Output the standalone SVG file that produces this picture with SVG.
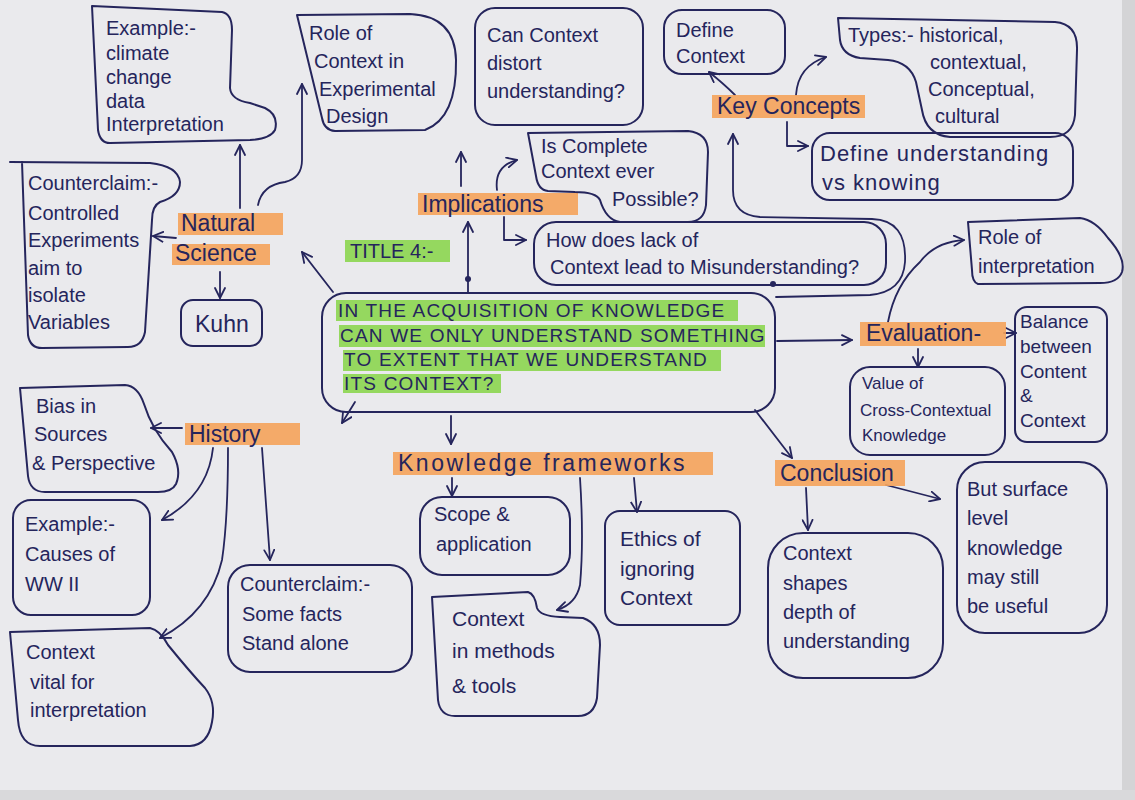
<svg xmlns="http://www.w3.org/2000/svg" width="1135" height="800" viewBox="0 0 1135 800">
<style>
.b{fill:none;stroke:#25255c;stroke-width:2;stroke-linejoin:round;stroke-linecap:round}
.c{fill:none;stroke:#25255c;stroke-width:1.8;stroke-linecap:round;stroke-linejoin:round}
.t{font-family:"Liberation Sans",Arial,sans-serif;font-size:20px;fill:#25255c}
.l{font-family:"Liberation Sans",Arial,sans-serif;font-size:23px;fill:#25255c}
.m{font-family:"Liberation Sans",Arial,sans-serif;font-size:19px;fill:#25255c;letter-spacing:1.2px}
.o{fill:#f5a35a;opacity:0.9}
.g{fill:#8cd64f;opacity:0.9}
</style>
<defs>
<marker id="a" viewBox="0 0 12 12" refX="11" refY="6" markerWidth="12" markerHeight="12" markerUnits="userSpaceOnUse" orient="auto">
<path d="M1,1 L11,6 L1,11" fill="none" stroke="#25255c" stroke-width="1.8" stroke-linecap="round" stroke-linejoin="round"/>
</marker>
</defs>
<rect width="1135" height="800" fill="#eaeaed"/>
<rect x="1122" y="0" width="13" height="800" fill="#d4d4d6"/>
<rect x="0" y="790" width="1135" height="10" fill="#d9d9db"/>

<g id="connectors">
<path class="c" d="M240,208 L240,145" marker-end="url(#a)"/>
<path class="c" d="M258,205 Q262,185 285,182 Q302,178 302,160 L302,84" marker-end="url(#a)"/>
<path class="c" d="M176,238 L153,236" marker-end="url(#a)"/>
<path class="c" d="M220,272 L220,298" marker-end="url(#a)"/>
<path class="c" d="M333,292 L302,252" marker-end="url(#a)"/>
<path class="c" d="M468,292 L468,222" marker-end="url(#a)"/>
<circle cx="468" cy="279" r="3" fill="#25255c"/>
<path class="c" d="M461,186 L461,152" marker-end="url(#a)"/>
<path class="c" d="M497,190 Q494,166 517,160" marker-end="url(#a)"/>
<path class="c" d="M504,217 L504,240 L526,240" marker-end="url(#a)"/>
<path class="c" d="M735,95 Q724,84 709,72" marker-end="url(#a)"/>
<path class="c" d="M796,95 Q798,66 826,57" marker-end="url(#a)"/>
<path class="c" d="M787,122 L787,146 L808,146" marker-end="url(#a)"/>
<path class="c" d="M776,297 L870,295 Q903,292 905,262 Q907,220 872,219 L760,217 Q733,215 733,190 L733,134" marker-end="url(#a)"/>
<circle cx="773" cy="284" r="3" fill="#25255c"/>
<path class="c" d="M777,341 L852,340" marker-end="url(#a)"/>
<path class="c" d="M888,322 Q895,285 920,262 Q935,242 964,240" marker-end="url(#a)"/>
<path class="c" d="M1004,333 L1016,333" marker-end="url(#a)"/>
<path class="c" d="M918,349 L918,367" marker-end="url(#a)"/>
<path class="c" d="M755,410 L792,458" marker-end="url(#a)"/>
<path class="c" d="M451,416 L451,444" marker-end="url(#a)"/>
<path class="c" d="M355,402 L342,423" marker-end="url(#a)"/>
<path class="c" d="M182,428 L151,428" marker-end="url(#a)"/>
<path class="c" d="M213,448 Q208,495 162,520" marker-end="url(#a)"/>
<path class="c" d="M228,448 Q228,520 222,560 Q210,612 160,638" marker-end="url(#a)"/>
<path class="c" d="M262,448 L270,560" marker-end="url(#a)"/>
<path class="c" d="M452,478 L452,496" marker-end="url(#a)"/>
<path class="c" d="M580,478 Q584,540 580,585 Q576,604 557,610" marker-end="url(#a)"/>
<path class="c" d="M634,478 L637,512" marker-end="url(#a)"/>
<path class="c" d="M806,488 L808,530" marker-end="url(#a)"/>
<path class="c" d="M886,485 L940,499" marker-end="url(#a)"/>
</g>

<g id="example-climate">
<path class="b" d="M92,6 L222,12 Q232,14 232,30 L230,88 Q231,100 250,103 L265,108 Q279,115 275,130 Q270,139 250,140 L110,143 Q100,143 98,130 Z"/>
<text class="t"><tspan x="106" y="35">Example:-</tspan><tspan x="106" y="60">climate</tspan><tspan x="106" y="84">change</tspan><tspan x="106" y="108">data</tspan><tspan x="106" y="131">Interpretation</tspan></text>
</g>

<g id="role-experimental">
<path class="b" d="M297,15 L410,14 Q455,16 456,60 Q457,118 425,130 L335,131 Q324,130 322,118 Z"/>
<text class="t"><tspan x="309" y="40">Role of</tspan><tspan x="314" y="68">Context in</tspan><tspan x="319" y="96">Experimental</tspan><tspan x="326" y="123">Design</tspan></text>
</g>

<g id="distort">
<rect class="b" x="475" y="8" width="168" height="117" rx="20"/>
<text class="t"><tspan x="487" y="42">Can Context</tspan><tspan x="487" y="70">distort</tspan><tspan x="487" y="98">understanding?</tspan></text>
</g>

<g id="define-context">
<rect class="b" x="664" y="10" width="121" height="64" rx="18"/>
<text class="t"><tspan x="676" y="37">Define</tspan><tspan x="676" y="63">Context</tspan></text>
</g>

<g id="types">
<path class="b" d="M838,18 L1055,22 Q1078,24 1077,50 L1075,115 Q1073,137 1050,137 L950,137 Q926,135 922,110 L916,82 Q910,62 888,60 L860,58 Q842,55 840,40 Z"/>
<text class="t"><tspan x="848" y="42">Types:- historical,</tspan><tspan x="930" y="69">contextual,</tspan><tspan x="928" y="96">Conceptual,</tspan><tspan x="935" y="123">cultural</tspan></text>
</g>

<g id="key-concepts">
<rect class="o" x="712" y="95" width="153" height="23"/>
<text class="l" x="717" y="114">Key Concepts</text>
</g>

<g id="define-understanding">
<rect class="b" x="812" y="133" width="261" height="67" rx="18"/>
<text class="l" style="font-size:22px;letter-spacing:1px"><tspan x="820" y="161">Define understanding</tspan><tspan x="822" y="190">vs knowing</tspan></text>
</g>

<g id="implications">
<rect class="o" x="418" y="193" width="160" height="22"/>
<text class="l" x="422" y="212">Implications</text>
</g>

<g id="complete-context">
<path class="b" d="M528,133 L688,131 Q708,133 708,152 L706,205 Q704,222 688,222 L620,222 Q606,220 600,200 Q596,192 575,192 L548,191 Q538,190 536,176 Z"/>
<text class="t"><tspan x="541" y="153">Is Complete</tspan><tspan x="541" y="178">Context ever</tspan><tspan x="612" y="206">Possible?</tspan></text>
</g>

<g id="lack-of-context">
<rect class="b" x="534" y="222" width="352" height="63" rx="22"/>
<text class="t"><tspan x="546" y="247">How does lack of</tspan><tspan x="550" y="274">Context lead to Misunderstanding?</tspan></text>
</g>

<g id="title">
<rect class="g" x="345" y="240" width="105" height="22"/>
<text class="t" x="350" y="258">TITLE 4:-</text>
</g>

<g id="main-question">
<rect class="b" x="322" y="293" width="453" height="119" rx="24"/>
<rect class="g" x="336" y="300" width="402" height="21"/>
<rect class="g" x="339" y="325" width="426" height="22"/>
<rect class="g" x="343" y="350" width="378" height="21"/>
<rect class="g" x="343" y="374" width="158" height="19"/>
<text class="m"><tspan x="338" y="317">IN THE ACQUISITION OF KNOWLEDGE</tspan><tspan x="340" y="342">CAN WE ONLY UNDERSTAND SOMETHING</tspan><tspan x="344" y="366">TO EXTENT THAT WE UNDERSTAND</tspan><tspan x="344" y="390">ITS CONTEXT?</tspan></text>
</g>

<g id="natural-science">
<rect class="o" x="178" y="213" width="105" height="22"/>
<rect class="o" x="172" y="244" width="98" height="21"/>
<text class="l"><tspan x="181" y="231">Natural</tspan><tspan x="175" y="261">Science</tspan></text>
</g>

<g id="counterclaim-experiments">
<path class="b" d="M10,162 L150,163 Q178,166 180,182 Q180,196 160,202 Q152,206 152,220 L145,332 Q142,347 128,347 L42,348 Q30,348 28,335 L22,162"/>
<text class="t"><tspan x="28" y="190">Counterclaim:-</tspan><tspan x="28" y="220">Controlled</tspan><tspan x="28" y="247">Experiments</tspan><tspan x="28" y="275">aim to</tspan><tspan x="28" y="302">isolate</tspan><tspan x="28" y="329">Variables</tspan></text>
</g>

<g id="kuhn">
<rect class="b" x="181" y="300" width="81" height="46" rx="12"/>
<text class="l" x="195" y="332">Kuhn</text>
</g>

<g id="role-interpretation">
<path class="b" d="M968,222 L1080,218 Q1095,220 1108,238 Q1126,258 1122,272 Q1118,283 1100,283 L978,284 Q972,282 972,270 Z"/>
<text class="t"><tspan x="978" y="244">Role of</tspan><tspan x="978" y="273">interpretation</tspan></text>
</g>

<g id="evaluation">
<rect class="o" x="860" y="322" width="146" height="24"/>
<text class="l" x="866" y="341">Evaluation-</text>
</g>

<g id="balance">
<rect class="b" x="1015" y="307" width="92" height="135" rx="12"/>
<text class="t" style="font-size:19px"><tspan x="1020" y="328">Balance</tspan><tspan x="1020" y="353">between</tspan><tspan x="1020" y="378">Content</tspan><tspan x="1020" y="402">&amp;</tspan><tspan x="1020" y="427">Context</tspan></text>
</g>

<g id="cross-contextual">
<rect class="b" x="850" y="367" width="155" height="88" rx="20"/>
<text class="t" style="font-size:17px"><tspan x="862" y="389">Value of</tspan><tspan x="860" y="416">Cross-Contextual</tspan><tspan x="862" y="441">Knowledge</tspan></text>
</g>

<g id="history">
<rect class="o" x="185" y="423" width="115" height="22"/>
<text class="l" x="189" y="442">History</text>
</g>

<g id="bias">
<path class="b" d="M20,388 L125,385 Q138,386 144,404 Q152,430 172,452 Q182,470 176,484 Q172,492 158,492 L45,492 Q30,492 28,476 Z"/>
<text class="t"><tspan x="36" y="413">Bias in</tspan><tspan x="34" y="441">Sources</tspan><tspan x="32" y="470">&amp; Perspective</tspan></text>
</g>

<g id="example-ww2">
<rect class="b" x="13" y="500" width="137" height="115" rx="18"/>
<text class="t"><tspan x="25" y="531">Example:-</tspan><tspan x="25" y="561">Causes of</tspan><tspan x="25" y="591">WW II</tspan></text>
</g>

<g id="context-vital">
<path class="b" d="M10,632 L150,628 Q160,630 168,645 Q190,672 205,688 Q216,702 212,722 Q208,745 190,746 L40,746 Q20,746 18,720 Z"/>
<text class="t"><tspan x="26" y="659">Context</tspan><tspan x="30" y="689">vital for</tspan><tspan x="30" y="717">interpretation</tspan></text>
</g>

<g id="counterclaim-facts">
<rect class="b" x="228" y="565" width="184" height="107" rx="22"/>
<text class="t"><tspan x="240" y="591">Counterclaim:-</tspan><tspan x="242" y="621">Some facts</tspan><tspan x="242" y="650">Stand alone</tspan></text>
</g>

<g id="knowledge-frameworks">
<rect class="o" x="393" y="452" width="320" height="23"/>
<text class="l" x="398" y="471" style="letter-spacing:2.5px">Knowledge frameworks</text>
</g>

<g id="scope">
<rect class="b" x="420" y="497" width="150" height="78" rx="22"/>
<text class="t"><tspan x="434" y="521">Scope &amp;</tspan><tspan x="436" y="551">application</tspan></text>
</g>

<g id="methods-tools">
<path class="b" d="M432,597 L528,592 Q535,594 537,608 Q540,616 560,617 L583,618 Q600,624 600,645 L597,698 Q594,716 578,716 L455,716 Q440,716 438,700 Z"/>
<text class="t" style="font-size:21px"><tspan x="452" y="626">Context</tspan><tspan x="452" y="658">in methods</tspan><tspan x="452" y="693">&amp; tools</tspan></text>
</g>

<g id="ethics">
<rect class="b" x="605" y="511" width="135" height="114" rx="15"/>
<text class="t" style="font-size:21px"><tspan x="620" y="546">Ethics of</tspan><tspan x="620" y="576">ignoring</tspan><tspan x="620" y="605">Context</tspan></text>
</g>

<g id="conclusion">
<rect class="o" x="775" y="460" width="130" height="26"/>
<text class="l" x="780" y="481">Conclusion</text>
</g>

<g id="context-shapes">
<rect class="b" x="768" y="533" width="175" height="145" rx="35"/>
<text class="t"><tspan x="783" y="560">Context</tspan><tspan x="783" y="590">shapes</tspan><tspan x="783" y="619">depth of</tspan><tspan x="783" y="648">understanding</tspan></text>
</g>

<g id="surface-level">
<rect class="b" x="957" y="462" width="150" height="171" rx="28"/>
<text class="t"><tspan x="967" y="496">But surface</tspan><tspan x="967" y="525">level</tspan><tspan x="967" y="555">knowledge</tspan><tspan x="967" y="584">may still</tspan><tspan x="967" y="613">be useful</tspan></text>
</g>
</svg>
